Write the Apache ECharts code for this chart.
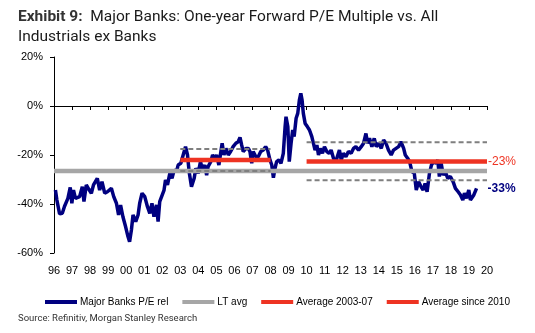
<!DOCTYPE html>
<html><head><meta charset="utf-8">
<script src="https://cdn.jsdelivr.net/npm/echarts@6/dist/echarts.min.js"></script>
<style>html,body{margin:0;padding:0;background:#fff}#c{width:535px;height:333px}</style>
</head><body><div id="c"></div>
<script>
// Data (year fraction, % relative P/E)
const years = [1996.08,1996.16,1996.31,1996.46,1996.58,1996.77,1996.90,1996.99,1997.08,1997.19,1997.42,1997.57,1997.66,1997.79,1997.93,1998.07,1998.19,1998.40,1998.53,1998.66,1998.81,1998.96,1999.18,1999.31,1999.46,1999.58,1999.69,1999.82,1999.97,2000.10,2000.19,2000.29,2000.38,2000.53,2000.66,2000.75,2000.88,2001.03,2001.18,2001.31,2001.43,2001.54,2001.68,2001.77,2001.86,2001.96,2002.10,2002.18,2002.29,2002.42,2002.54,2002.66,2002.79,2002.88,2003.03,2003.16,2003.29,2003.40,2003.49,2003.62,2003.77,2003.86,2003.99,2004.12,2004.23,2004.36,2004.46,2004.54,2004.69,2004.79,2004.92,2005.01,2005.14,2005.25,2005.32,2005.42,2005.53,2005.66,2005.79,2005.93,2006.08,2006.21,2006.31,2006.40,2006.49,2006.64,2006.77,2006.86,2006.96,2007.04,2007.19,2007.32,2007.46,2007.60,2007.73,2007.84,2007.97,2008.07,2008.16,2008.25,2008.34,2008.47,2008.58,2008.71,2008.81,2008.86,2008.96,2009.04,2009.14,2009.23,2009.31,2009.42,2009.51,2009.60,2009.68,2009.75,2009.82,2009.92,2010.04,2010.16,2010.29,2010.38,2010.47,2010.57,2010.66,2010.75,2010.88,2010.99,2011.12,2011.25,2011.36,2011.49,2011.62,2011.73,2011.82,2011.92,2012.04,2012.18,2012.32,2012.47,2012.60,2012.73,2012.88,2013.03,2013.16,2013.29,2013.38,2013.49,2013.62,2013.75,2013.86,2013.99,2014.14,2014.27,2014.40,2014.54,2014.69,2014.82,2014.92,2015.10,2015.23,2015.38,2015.47,2015.60,2015.71,2015.84,2015.97,2016.08,2016.21,2016.34,2016.46,2016.57,2016.68,2016.81,2016.92,2017.04,2017.18,2017.27,2017.36,2017.46,2017.57,2017.69,2017.82,2017.97,2018.12,2018.25,2018.40,2018.53,2018.66,2018.75,2018.86,2018.99,2019.08,2019.18,2019.27,2019.42];
const peRel = [-34.3,-38.4,-44,-43.8,-41,-37.7,-33.2,-39.7,-34.3,-37.7,-37,-32.9,-39,-32.2,-34,-35.6,-32.2,-29.5,-34.3,-30.9,-35.6,-35,-33.6,-37,-39.7,-44.5,-40.4,-45.2,-49.3,-53.3,-55.4,-50.6,-44.5,-47.2,-44.5,-39.7,-35.6,-37,-41.1,-43.8,-39.7,-45.2,-40.4,-47.2,-39,-39.7,-34.3,-30.2,-32.2,-27.5,-29.5,-26.1,-26.8,-24.1,-23.4,-20,-16.6,-20,-26.8,-32.9,-29.5,-25.4,-27.5,-22.7,-26.1,-24.1,-28.2,-24.8,-22.7,-20,-21.3,-20,-24.1,-18.6,-15.2,-20,-17.3,-20,-18.6,-16.6,-15.2,-14.6,-12.8,-15.9,-18.6,-17.3,-17.3,-18.6,-23.4,-18.6,-20.7,-20.7,-18.6,-18,-16.6,-18,-22,-24.1,-29.3,-25.4,-22.7,-22,-23.4,-19.3,-8.4,-4.4,-8.4,-22.7,-15.2,-9.8,-12.5,-5,-3,2.4,5.2,2.4,-3,-7.1,-8.4,-9.8,-12.5,-12,-18,-15.9,-20,-17.3,-19.3,-16.6,-18.6,-19.3,-18,-21.3,-22.7,-23.4,-18,-22,-19.3,-20.7,-18.6,-19.3,-17.3,-16.6,-18,-16.6,-15.2,-11.2,-15.2,-13.2,-16.6,-13.2,-16.6,-15.2,-17.3,-13.9,-15.2,-18,-20,-18,-18.6,-16.6,-14.6,-17.3,-20,-21.3,-22.7,-26.8,-27.5,-34.3,-30.9,-32.9,-34.3,-31.6,-35,-27.5,-24.1,-22.7,-23.4,-22,-28.8,-23.4,-28.2,-26.8,-29.5,-28.8,-30.9,-33.6,-35,-36.3,-38.4,-35.6,-37.7,-34.3,-38.4,-39,-36.3,-33.6];

const ltAvg = -26.5;
const avg0307 = -22, avg0307Hi = -17.6, avg0307Lo = -26.5;
const avg0307Span = [2003, 2008];
const avg10 = -22.7, avg10Hi = -14.8, avg10Lo = -30.3;
const avg10Span = [2010, 2020];
const fullSpan = [1996, 2020];
const yTicks = {min: -60, max: 20, step: 20};
const lastLabel = '-33%';
const avg10Label = '-23%';
const seriesNames = ['Major Banks P/E rel', 'LT avg', 'Average 2003-07', 'Average since 2010'];

const NAVY = '#000080', RED = '#EE3322', GRAY = '#A6A6A6', DGRAY = '#7F7F7F';
const flat = (span, v) => span.map(x => [x, v]);
const dash = (name, span, v) => ({
  name, type: 'line', data: flat(span, v), symbol: 'none', silent: true,
  lineStyle: {color: DGRAY, width: 2, type: [5, 3]}, z: 4
});

const chart = echarts.init(document.getElementById('c'), null, {renderer: 'canvas'});
chart.setOption({
  animation: false,
  backgroundColor: '#fff',
  textStyle: {fontFamily: 'Liberation Sans, Arial, sans-serif'},
  title: [{
    text: '{b|Exhibit 9:}  Major Banks: One-year Forward P/E Multiple vs. All\nIndustrials ex Banks',
    left: 13, top: 2,
    textStyle: {
      fontFamily: 'Roboto', fontSize: 15.5, fontWeight: 'normal', color: '#1a1a1a', lineHeight: 20,
      rich: {b: {fontFamily: 'Roboto', fontSize: 15.5, fontWeight: 'bold', color: '#333', lineHeight: 20}}
    }
  }, {
    text: 'Source: Refinitiv, Morgan Stanley Research',
    left: 13, top: 309,
    textStyle: {fontFamily: 'Roboto', fontSize: 9.5, fontWeight: 'normal', color: '#333'}
  }],
  legend: {
    data: seriesNames, left: 40, top: 292, itemGap: 14, itemWidth: 32, itemHeight: 4,
    icon: 'rect',
    textStyle: {fontSize: 10, color: '#000', fontFamily: 'Liberation Sans, Arial', padding: [0, 0, 0, -2]}
  },
  grid: {left: 54, right: 48, top: 57, bottom: 80},
  xAxis: [{
    type: 'value', min: fullSpan[0], max: fullSpan[1], interval: 1, position: 'top',
    axisLine: {show: true, onZero: true, lineStyle: {color: '#000', width: 1}},
    axisTick: {show: true, inside: true, length: 4, lineStyle: {color: '#000'}},
    axisLabel: {show: false}, splitLine: {show: false}
  }, {
    type: 'value', min: fullSpan[0], max: fullSpan[1], interval: 1, position: 'bottom',
    axisLine: {show: false, onZero: false}, axisTick: {show: false}, splitLine: {show: false},
    axisLabel: {margin: 12, fontSize: 11, color: '#000',
      formatter: v => String(v % 100).padStart(2, '0')}
  }],
  yAxis: {
    type: 'value', min: yTicks.min, max: yTicks.max, interval: yTicks.step,
    axisLine: {show: true, lineStyle: {color: '#000', width: 1}},
    axisTick: {show: true, length: 4, lineStyle: {color: '#000'}},
    axisLabel: {formatter: '{value}%', fontSize: 11, color: '#000', margin: 11},
    splitLine: {show: false}
  },
  series: [{
    name: seriesNames[0], type: 'line', data: years.map((y, i) => [y, peRel[i]]),
    symbol: 'none', lineStyle: {color: NAVY, width: 3.5}, itemStyle: {color: NAVY}, z: 2,
    endLabel: {show: true, formatter: lastLabel, color: NAVY, fontSize: 12, fontWeight: 'bold', distance: 11}
  }, {
    name: seriesNames[1], type: 'line', data: flat(fullSpan, ltAvg), symbol: 'none',
    lineStyle: {color: GRAY, width: 4.5}, itemStyle: {color: GRAY}, z: 3
  }, {
    name: seriesNames[2], type: 'line', data: flat(avg0307Span, avg0307), symbol: 'none',
    lineStyle: {color: RED, width: 4.5}, itemStyle: {color: RED}, z: 5
  }, {
    name: seriesNames[3], type: 'line', data: flat(avg10Span, avg10), symbol: 'none',
    lineStyle: {color: RED, width: 4.5}, itemStyle: {color: RED}, z: 5,
    endLabel: {show: true, formatter: avg10Label, color: RED, fontSize: 12, distance: 1}
  },
  dash('hi0307', avg0307Span, avg0307Hi), dash('lo0307', avg0307Span, avg0307Lo),
  dash('hi10', avg10Span, avg10Hi), dash('lo10', avg10Span, avg10Lo)
  ]
});
</script></body></html>
